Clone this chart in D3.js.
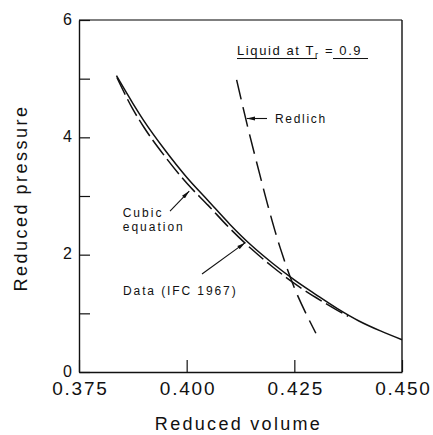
<!DOCTYPE html>
<html>
<head>
<meta charset="utf-8">
<script src="https://cdn.jsdelivr.net/npm/d3@7"></script>
<style>
  html, body { margin: 0; padding: 0; background: #fff; }
  svg { display: block; font-family: "Liberation Sans", Arial, Helvetica, sans-serif; }
</style>
</head>
<body>
<svg id="chart" width="433" height="435"></svg>
<script>
// Cubic equation of state, liquid isotherm at Tr = 0.9
const cubicVolume   = [0.3837, 0.3875, 0.390, 0.395, 0.400, 0.405, 0.410, 0.415, 0.420, 0.425, 0.430, 0.435, 0.440, 0.445, 0.450];
const cubicPressure = [5.05,   4.58,   4.29,  3.78,  3.32,  2.92,  2.52,  2.16,  1.85,  1.57,  1.32,  1.08,  0.87,  0.70,  0.55];

// Data (IFC 1967)
const dataVolume   = [0.3838, 0.3875, 0.390, 0.395, 0.400, 0.405, 0.410, 0.415, 0.420, 0.425, 0.430, 0.435, 0.4375];
const dataPressure = [5.02,   4.48,   4.18,  3.67,  3.22,  2.84,  2.45,  2.10,  1.79,  1.51,  1.27,  1.05,  0.95];

// Redlich equation
const redlichVolume   = [0.4116, 0.4145, 0.4170, 0.4190, 0.4217, 0.4252, 0.4300];
const redlichPressure = [4.98,   4.08,   3.36,   2.80,   2.12,   1.40,   0.66];

// Axis ticks
const xTicks = [0.375, 0.400, 0.425, 0.450];
const yTicks = [0, 1, 2, 3, 4, 5, 6];
const yTickLabels = ["0", "", "2", "", "4", "", "6"];

const svg = d3.select("#chart");
const margin = { left: 79, right: 31, top: 20, bottom: 63 };
const W = 433, H = 435;

const x = d3.scaleLinear().domain([0.375, 0.450]).range([margin.left, W - margin.right]);
const y = d3.scaleLinear().domain([0, 6]).range([H - margin.bottom, margin.top]);

const ink = "#111";

// Arrowhead for the leader lines
svg.append("defs").append("marker")
  .attr("id", "arrow")
  .attr("viewBox", "0 0 10 6")
  .attr("refX", 10).attr("refY", 3)
  .attr("markerWidth", 9).attr("markerHeight", 5)
  .attr("markerUnits", "userSpaceOnUse")
  .attr("orient", "auto")
  .append("path").attr("d", "M0,0.6 L10,3 L0,5.4 Z").attr("fill", ink);

// Frame: top and right edges
svg.append("line")
  .attr("x1", x(0.375)).attr("x2", x(0.450))
  .attr("y1", y(6)).attr("y2", y(6))
  .attr("stroke", "#555").attr("stroke-width", 1.3);
svg.append("line")
  .attr("x1", x(0.450)).attr("x2", x(0.450))
  .attr("y1", y(6)).attr("y2", y(0))
  .attr("stroke", ink).attr("stroke-width", 1.4);

// X axis
const xAxis = svg.append("g")
  .attr("transform", `translate(0,${y(0)})`)
  .call(d3.axisBottom(x).tickValues(xTicks).tickFormat(d3.format(".3f"))
    .tickSizeInner(-12).tickSizeOuter(0).tickPadding(10));
xAxis.select(".domain").attr("stroke", ink).attr("stroke-width", 1.3);
xAxis.selectAll(".tick line").attr("stroke", ink).attr("stroke-width", 1.2);
xAxis.selectAll(".tick text")
  .attr("fill", ink).style("font-size", "19px").style("letter-spacing", "1.8px")
  .attr("dx", "0.9px");

// Y axis
const yAxis = svg.append("g")
  .attr("transform", `translate(${x(0.375)},0)`)
  .call(d3.axisLeft(y).tickValues(yTicks).tickFormat((d, i) => yTickLabels[i])
    .tickSizeInner(-11).tickSizeOuter(0).tickPadding(7));
yAxis.select(".domain").attr("stroke", ink).attr("stroke-width", 1.4);
yAxis.selectAll(".tick line").attr("stroke", ink).attr("stroke-width", 1.2);
yAxis.selectAll(".tick text").attr("fill", ink).style("font-size", "16px").attr("dy", "0.26em");

// Axis titles
svg.append("text")
  .attr("x", (x(0.375) + x(0.450)) / 2 - 2).attr("y", 430)
  .attr("text-anchor", "middle")
  .style("font-size", "18px").style("letter-spacing", "2.3px")
  .attr("fill", ink).text("Reduced volume");
svg.append("text")
  .attr("transform", `translate(26.5,${(y(0) + y(6)) / 2 + 2}) rotate(-90)`)
  .attr("text-anchor", "middle")
  .style("font-size", "18px").style("letter-spacing", "2.5px")
  .attr("fill", ink).text("Reduced pressure");

// Curves
const line = d3.line().x(d => x(d[0])).y(d => y(d[1])).curve(d3.curveMonotoneX);
const zip = (a, b) => a.map((v, i) => [v, b[i]]);
const lineY = d3.line().x(d => x(d[0])).y(d => y(d[1])).curve(d3.curveMonotoneY);

svg.append("path")
  .datum(zip(cubicVolume, cubicPressure))
  .attr("d", line).attr("fill", "none")
  .attr("stroke", ink).attr("stroke-width", 1.5);

svg.append("path")
  .datum(zip(dataVolume, dataPressure))
  .attr("d", line).attr("fill", "none")
  .attr("stroke", ink).attr("stroke-width", 1.5)
  .attr("stroke-dasharray", "19,5");

svg.append("path")
  .datum(zip(redlichVolume, redlichPressure))
  .attr("d", lineY).attr("fill", "none")
  .attr("stroke", ink).attr("stroke-width", 1.5)
  .attr("stroke-dasharray", "20,8");

// Annotations (positions in data units)
const label = (vx, vy, txt, size, ls) => svg.append("text")
  .attr("x", x(vx)).attr("y", y(vy))
  .style("font-size", size + "px").style("letter-spacing", ls + "px")
  .attr("fill", ink).text(txt);

const leader = (x1, y1, x2, y2) => svg.append("line")
  .attr("x1", x(x1)).attr("y1", y(y1)).attr("x2", x(x2)).attr("y2", y(y2))
  .attr("stroke", ink).attr("stroke-width", 1.1)
  .attr("marker-end", "url(#arrow)");

label(0.38515, 2.642, "Cubic", 12, 2);
label(0.38515, 2.403, "equation", 12, 2);
leader(0.39613, 2.744, 0.40060, 3.085);

label(0.38522, 1.312, "Data (IFC 1967)", 12, 1.9);
leader(0.40356, 1.670, 0.41360, 2.205);

label(0.42051, 4.244, "Redlich", 12, 1.7);
leader(0.41865, 4.321, 0.41395, 4.321);

// Title with subscript, underlined
const title = svg.append("text")
  .attr("x", x(0.41169)).attr("y", y(5.403))
  .style("font-size", "13px").style("letter-spacing", "1.6px")
  .attr("fill", ink);
title.append("tspan").text("Liquid at T");
title.append("tspan").attr("dy", 3).style("font-size", "9px").text("r");
title.append("tspan").attr("dy", -3).text(" = 0.9");
const uy = y(5.403) + 3.5;
svg.append("line").attr("x1", x(0.41169)).attr("x2", x(0.41169) + 80)
  .attr("y1", uy).attr("y2", uy).attr("stroke", ink).attr("stroke-width", 1);
svg.append("line").attr("x1", x(0.41169) + 96).attr("x2", x(0.41169) + 131)
  .attr("y1", uy).attr("y2", uy).attr("stroke", ink).attr("stroke-width", 1);
</script>
</body>
</html>
